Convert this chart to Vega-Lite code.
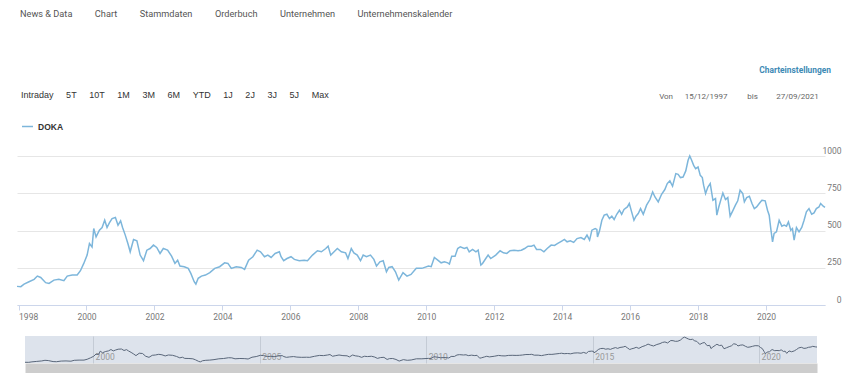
{
  "$schema": "https://vega.github.io/schema/vega-lite/v6.json",
  "padding": {"left": 14, "top": 10, "right": 5, "bottom": 5},
  "background": "white",
  "title": {
    "text": "News & Data\u2003\u2003\u2009\u2009Chart\u2003\u2003\u2009\u2009Stammdaten\u2003\u2003\u2009\u2009Orderbuch\u2003\u2003\u2009\u2009Unternehmen\u2003\u2003\u2009\u2009Unternehmenskalender",
    "anchor": "start",
    "offset": 46,
    "dx": 6,
    "fontSize": 9.2,
    "fontWeight": "normal",
    "color": "#555555",
    "font": "Roboto, sans-serif"
  },
  "datasets": {
    "doka": [
      {"date": "1997-12-15", "price": 125}, {"date": "1998-01-25", "price": 123}, {"date": "1998-03-01", "price": 140},
      {"date": "1998-04-23", "price": 156}, {"date": "1998-06-17", "price": 172}, {"date": "1998-07-22", "price": 194},
      {"date": "1998-08-27", "price": 185}, {"date": "1998-10-19", "price": 150}, {"date": "1998-11-24", "price": 145},
      {"date": "1999-01-16", "price": 167}, {"date": "1999-03-10", "price": 172}, {"date": "1999-05-03", "price": 163},
      {"date": "1999-06-08", "price": 194}, {"date": "1999-07-31", "price": 201}, {"date": "1999-09-23", "price": 201},
      {"date": "1999-10-28", "price": 230}, {"date": "1999-12-03", "price": 279}, {"date": "2000-01-08", "price": 335},
      {"date": "2000-02-02", "price": 413}, {"date": "2000-03-01", "price": 390}, {"date": "2000-03-19", "price": 513},
      {"date": "2000-04-13", "price": 457}, {"date": "2000-05-19", "price": 502}, {"date": "2000-06-17", "price": 520},
      {"date": "2000-07-15", "price": 569}, {"date": "2000-08-09", "price": 520}, {"date": "2000-09-03", "price": 551},
      {"date": "2000-10-02", "price": 580}, {"date": "2000-11-07", "price": 587}, {"date": "2000-12-05", "price": 536},
      {"date": "2001-01-02", "price": 565}, {"date": "2001-01-23", "price": 520}, {"date": "2001-02-21", "price": 469},
      {"date": "2001-03-21", "price": 413}, {"date": "2001-04-15", "price": 357}, {"date": "2001-05-21", "price": 440},
      {"date": "2001-06-26", "price": 431}, {"date": "2001-07-31", "price": 335}, {"date": "2001-09-05", "price": 297},
      {"date": "2001-10-11", "price": 368}, {"date": "2001-11-15", "price": 379}, {"date": "2001-12-21", "price": 402},
      {"date": "2002-01-25", "price": 386}, {"date": "2002-03-02", "price": 346}, {"date": "2002-04-06", "price": 379},
      {"date": "2002-05-22", "price": 368}, {"date": "2002-07-04", "price": 328}, {"date": "2002-08-09", "price": 279},
      {"date": "2002-09-07", "price": 301}, {"date": "2002-10-02", "price": 261}, {"date": "2002-11-17", "price": 257},
      {"date": "2002-12-30", "price": 246}, {"date": "2003-01-27", "price": 212}, {"date": "2003-03-04", "price": 156},
      {"date": "2003-03-22", "price": 140}, {"date": "2003-04-16", "price": 179}, {"date": "2003-05-21", "price": 194},
      {"date": "2003-07-03", "price": 201}, {"date": "2003-08-19", "price": 217}, {"date": "2003-10-11", "price": 246},
      {"date": "2003-12-03", "price": 257}, {"date": "2004-01-25", "price": 283}, {"date": "2004-03-01", "price": 279},
      {"date": "2004-04-06", "price": 246}, {"date": "2004-05-29", "price": 257}, {"date": "2004-07-22", "price": 252},
      {"date": "2004-08-27", "price": 239}, {"date": "2004-10-09", "price": 301}, {"date": "2004-11-24", "price": 324},
      {"date": "2005-01-09", "price": 368}, {"date": "2005-02-14", "price": 357}, {"date": "2005-03-29", "price": 324},
      {"date": "2005-05-04", "price": 335}, {"date": "2005-06-08", "price": 319}, {"date": "2005-07-21", "price": 346},
      {"date": "2005-09-05", "price": 357}, {"date": "2005-09-23", "price": 324}, {"date": "2005-10-21", "price": 297},
      {"date": "2005-11-26", "price": 312}, {"date": "2006-01-08", "price": 324}, {"date": "2006-02-13", "price": 306},
      {"date": "2006-04-07", "price": 297}, {"date": "2006-05-30", "price": 301}, {"date": "2006-07-04", "price": 297},
      {"date": "2006-08-27", "price": 335}, {"date": "2006-10-19", "price": 364}, {"date": "2006-12-01", "price": 357},
      {"date": "2007-01-17", "price": 379}, {"date": "2007-02-11", "price": 395}, {"date": "2007-03-11", "price": 335},
      {"date": "2007-04-16", "price": 357}, {"date": "2007-05-21", "price": 379}, {"date": "2007-07-03", "price": 357},
      {"date": "2007-08-18", "price": 350}, {"date": "2007-09-12", "price": 312}, {"date": "2007-10-18", "price": 379},
      {"date": "2007-11-15", "price": 350}, {"date": "2007-12-21", "price": 335}, {"date": "2008-01-25", "price": 297},
      {"date": "2008-02-23", "price": 335}, {"date": "2008-03-29", "price": 324}, {"date": "2008-05-11", "price": 335},
      {"date": "2008-06-17", "price": 306}, {"date": "2008-07-15", "price": 261}, {"date": "2008-08-20", "price": 290},
      {"date": "2008-09-25", "price": 297}, {"date": "2008-10-30", "price": 223}, {"date": "2008-11-24", "price": 252},
      {"date": "2008-12-30", "price": 257}, {"date": "2009-02-04", "price": 223}, {"date": "2009-03-11", "price": 167},
      {"date": "2009-04-26", "price": 217}, {"date": "2009-06-08", "price": 194}, {"date": "2009-07-21", "price": 205},
      {"date": "2009-09-16", "price": 246}, {"date": "2009-11-15", "price": 246}, {"date": "2010-01-25", "price": 261},
      {"date": "2010-02-23", "price": 257}, {"date": "2010-03-29", "price": 319}, {"date": "2010-05-05", "price": 301},
      {"date": "2010-06-10", "price": 283}, {"date": "2010-07-15", "price": 290}, {"date": "2010-08-20", "price": 283},
      {"date": "2010-09-07", "price": 275}, {"date": "2010-10-02", "price": 328}, {"date": "2010-11-07", "price": 328},
      {"date": "2010-12-05", "price": 379}, {"date": "2011-01-02", "price": 391}, {"date": "2011-02-14", "price": 379},
      {"date": "2011-03-14", "price": 386}, {"date": "2011-04-08", "price": 357}, {"date": "2011-05-14", "price": 373},
      {"date": "2011-06-19", "price": 357}, {"date": "2011-07-13", "price": 368}, {"date": "2011-08-11", "price": 268},
      {"date": "2011-08-29", "price": 279}, {"date": "2011-10-03", "price": 312}, {"date": "2011-10-28", "price": 335},
      {"date": "2011-11-25", "price": 312}, {"date": "2012-01-18", "price": 335}, {"date": "2012-03-05", "price": 364},
      {"date": "2012-04-10", "price": 350}, {"date": "2012-05-16", "price": 346}, {"date": "2012-06-20", "price": 364},
      {"date": "2012-08-02", "price": 368}, {"date": "2012-09-14", "price": 364}, {"date": "2012-10-19", "price": 368},
      {"date": "2012-11-24", "price": 379}, {"date": "2012-12-30", "price": 395}, {"date": "2013-02-04", "price": 395},
      {"date": "2013-03-04", "price": 402}, {"date": "2013-04-01", "price": 373}, {"date": "2013-05-14", "price": 373},
      {"date": "2013-06-19", "price": 357}, {"date": "2013-07-24", "price": 379}, {"date": "2013-09-05", "price": 402},
      {"date": "2013-10-11", "price": 400}, {"date": "2013-11-15", "price": 413}, {"date": "2014-01-01", "price": 431},
      {"date": "2014-01-25", "price": 440}, {"date": "2014-02-23", "price": 424}, {"date": "2014-03-30", "price": 431},
      {"date": "2014-05-05", "price": 420}, {"date": "2014-06-10", "price": 446}, {"date": "2014-07-22", "price": 453},
      {"date": "2014-08-27", "price": 440}, {"date": "2014-09-25", "price": 469}, {"date": "2014-10-23", "price": 435},
      {"date": "2014-11-17", "price": 502}, {"date": "2014-12-22", "price": 513}, {"date": "2015-01-09", "price": 507},
      {"date": "2015-01-16", "price": 457}, {"date": "2015-02-07", "price": 498}, {"date": "2015-03-04", "price": 569},
      {"date": "2015-03-29", "price": 603}, {"date": "2015-04-27", "price": 609}, {"date": "2015-05-25", "price": 580},
      {"date": "2015-06-19", "price": 596}, {"date": "2015-07-14", "price": 574}, {"date": "2015-08-11", "price": 609},
      {"date": "2015-09-09", "price": 636}, {"date": "2015-10-03", "price": 609}, {"date": "2015-10-28", "price": 641},
      {"date": "2015-12-03", "price": 658}, {"date": "2015-12-24", "price": 681}, {"date": "2016-01-18", "price": 625},
      {"date": "2016-02-12", "price": 569}, {"date": "2016-03-05", "price": 596}, {"date": "2016-03-29", "price": 614},
      {"date": "2016-04-23", "price": 647}, {"date": "2016-05-22", "price": 609}, {"date": "2016-06-27", "price": 670},
      {"date": "2016-08-02", "price": 708}, {"date": "2016-08-31", "price": 759}, {"date": "2016-09-25", "price": 725},
      {"date": "2016-10-30", "price": 692}, {"date": "2016-12-05", "price": 743}, {"date": "2017-01-09", "price": 775},
      {"date": "2017-02-04", "price": 815}, {"date": "2017-03-04", "price": 833}, {"date": "2017-04-02", "price": 797},
      {"date": "2017-05-07", "price": 882}, {"date": "2017-06-01", "price": 877}, {"date": "2017-06-26", "price": 855},
      {"date": "2017-07-24", "price": 859}, {"date": "2017-08-22", "price": 900}, {"date": "2017-09-16", "price": 971},
      {"date": "2017-10-04", "price": 1000}, {"date": "2017-10-22", "price": 975}, {"date": "2017-11-15", "price": 937},
      {"date": "2017-12-06", "price": 915}, {"date": "2018-01-01", "price": 926}, {"date": "2018-01-25", "price": 870},
      {"date": "2018-02-16", "price": 855}, {"date": "2018-03-02", "price": 804}, {"date": "2018-03-23", "price": 748},
      {"date": "2018-04-17", "price": 792}, {"date": "2018-05-12", "price": 815}, {"date": "2018-06-10", "price": 703},
      {"date": "2018-07-08", "price": 714}, {"date": "2018-07-22", "price": 603}, {"date": "2018-08-12", "price": 658},
      {"date": "2018-09-07", "price": 714}, {"date": "2018-09-25", "price": 752}, {"date": "2018-10-23", "price": 708},
      {"date": "2018-11-17", "price": 721}, {"date": "2018-12-12", "price": 596}, {"date": "2019-01-09", "price": 632},
      {"date": "2019-02-07", "price": 670}, {"date": "2019-03-04", "price": 699}, {"date": "2019-03-29", "price": 770},
      {"date": "2019-04-27", "price": 748}, {"date": "2019-05-14", "price": 692}, {"date": "2019-06-08", "price": 721},
      {"date": "2019-07-07", "price": 730}, {"date": "2019-08-04", "price": 681}, {"date": "2019-08-29", "price": 647},
      {"date": "2019-09-23", "price": 658}, {"date": "2019-10-21", "price": 681}, {"date": "2019-11-18", "price": 703},
      {"date": "2019-12-24", "price": 699}, {"date": "2020-01-18", "price": 636}, {"date": "2020-02-05", "price": 603},
      {"date": "2020-02-23", "price": 507}, {"date": "2020-03-12", "price": 424}, {"date": "2020-03-29", "price": 480},
      {"date": "2020-04-23", "price": 491}, {"date": "2020-05-22", "price": 569}, {"date": "2020-06-20", "price": 529},
      {"date": "2020-07-15", "price": 536}, {"date": "2020-08-09", "price": 529}, {"date": "2020-08-30", "price": 558},
      {"date": "2020-09-24", "price": 502}, {"date": "2020-10-12", "price": 513}, {"date": "2020-10-30", "price": 435},
      {"date": "2020-11-24", "price": 520}, {"date": "2020-12-22", "price": 491}, {"date": "2021-01-20", "price": 520},
      {"date": "2021-02-14", "price": 569}, {"date": "2021-03-11", "price": 625}, {"date": "2021-04-08", "price": 647},
      {"date": "2021-05-07", "price": 609}, {"date": "2021-06-01", "price": 618}, {"date": "2021-06-26", "price": 647},
      {"date": "2021-07-24", "price": 658}, {"date": "2021-08-11", "price": 681}, {"date": "2021-09-08", "price": 663},
      {"date": "2021-09-27", "price": 655}
    ]
  },
  "spacing": 31,
  "bounds": "flush",
  "center": true,
  "vconcat": [
    {
      "width": 808,
      "height": 149,
      "data": {"name": "doka"},
      "title": {
        "text": "Charteinstellungen",
        "subtitle": "Von\u2003\u2009 15/12/1997\u2003\u2003\u2009 bis\u2003\u2003 27/09/2021\u2003\u2002\u200b",
        "anchor": "end",
        "frame": "group",
        "offset": 45,
        "dx": 6,
        "fontSize": 8.4,
        "fontWeight": "bold",
        "color": "#3d8ab5",
        "font": "Roboto, sans-serif",
        "subtitleFont": "Roboto, sans-serif",
        "subtitleFontSize": 8,
        "subtitleColor": "#666666",
        "subtitlePadding": 19
      },
      "mark": {"type": "line", "strokeWidth": 1.5},
      "encoding": {
        "x": {
          "field": "date",
          "type": "temporal",
          "scale": {"domain": [{"year": 1997, "month": 12, "date": 15}, {"year": 2021, "month": 9, "date": 27}]},
          "axis": {
            "title": null,
            "tickCount": {"interval": "year", "step": 2},
            "format": "%Y",
            "grid": false,
            "domainColor": "#ccd6eb",
            "tickColor": "#ccd6eb",
            "tickSize": 5,
            "labelColor": "#777777",
            "labelFontSize": 8.5,
            "labelPadding": 2,
            "labelFlush": 6
          }
        },
        "y": {
          "field": "price",
          "type": "quantitative",
          "scale": {"domain": [0, 1000], "nice": false},
          "axis": {
            "title": null,
            "orient": "right",
            "values": [0, 250, 500, 750, 1000],
            "format": "d",
            "grid": true,
            "gridColor": "#e6e6e6",
            "domain": false,
            "ticks": false,
            "labelAlign": "right",
            "labelPadding": 16,
            "labelBaseline": "bottom",
            "labelOffset": -1,
            "labelColor": "#777777",
            "labelFontSize": 8.5
          }
        },
        "color": {
          "datum": "DOKA",
          "type": "nominal",
          "scale": {"range": ["#7db6db"]},
          "legend": {
            "orient": "none",
            "legendX": 4,
            "legendY": -65,
            "title": "Intraday\u2003\u2009\u20095T\u2003\u2009\u200910T\u2003\u2009\u20091M\u2003\u2009\u20093M\u2003\u2009\u20096M\u2003\u2009\u2009YTD\u2003\u2009\u20091J\u2003\u2009\u20092J\u2003\u2009\u20093J\u2003\u2009\u20095J\u2003\u2009\u2009Max",
            "titleLimit": 500,
            "titleFontSize": 9,
            "titleFontWeight": "normal",
            "titleColor": "#333333",
            "titleFont": "'Liberation Sans', Arial, sans-serif",
            "titlePadding": 20,
            "symbolType": "stroke",
            "symbolStrokeWidth": 1.5,
            "symbolSize": 121,
            "labelFontSize": 8.5,
            "labelFontWeight": "bold",
            "labelColor": "#333333",
            "labelFont": "'Liberation Sans', Arial, sans-serif"
          }
        }
      }
    },
    {
      "width": 792,
      "height": 27,
      "data": {"name": "doka"},
      "view": {"fill": "#dde3ec", "stroke": null},
      "mark": {"type": "line", "strokeWidth": 1, "color": "#5a677a"},
      "encoding": {
        "x": {
          "field": "date",
          "type": "temporal",
          "scale": {"domain": [{"year": 1997, "month": 12, "date": 15}, {"year": 2021, "month": 9, "date": 27}]},
          "axis": {
            "title": null,
            "tickCount": {"interval": "year", "step": 5},
            "format": "%Y",
            "grid": true,
            "gridColor": "#c4cbd5",
            "ticks": false,
            "domain": true,
            "domainColor": "#cdcdcd",
            "domainWidth": 10,
            "offset": 5,
            "labelAlign": "left",
            "labelBaseline": "bottom",
            "labelPadding": -7,
            "labelOffset": 2,
            "labelFlush": false,
            "labelColor": "#999999",
            "labelFontSize": 8.5
          }
        },
        "y": {
          "field": "price",
          "type": "quantitative",
          "scale": {"domain": [100, 1040], "nice": false, "zero": false},
          "axis": null
        }
      }
    }
  ],
  "config": {
    "font": "Roboto, sans-serif",
    "view": {"stroke": null}
  }
}
